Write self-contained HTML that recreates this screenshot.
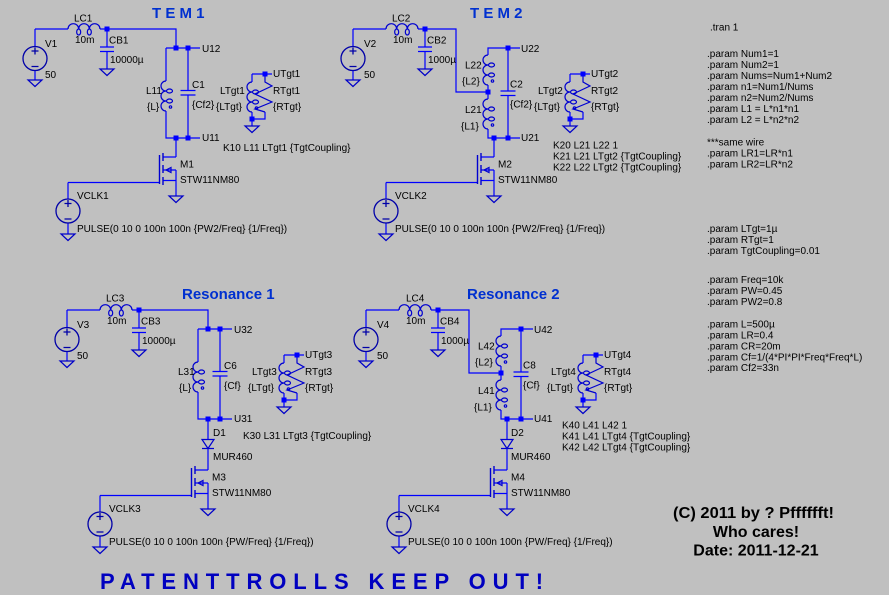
<!DOCTYPE html>
<html>
<head>
<meta charset="utf-8">
<style>
  html,body{margin:0;padding:0;background:#c0c0c0;}
  svg{display:block;}
  .t{font-family:"Liberation Sans",Arial,sans-serif;font-size:10px;fill:#000;}
  .ttl{font-family:"Liberation Sans",Arial,sans-serif;font-size:15px;font-weight:bold;fill:#0030d0;}
</style>
</head>
<body>
<svg width="889" height="595" viewBox="0 0 889 595" xmlns="http://www.w3.org/2000/svg">
<rect width="889" height="595" fill="#c0c0c0"/>
<defs>
  <g id="gnd" fill="none" stroke="#0000c8" stroke-width="1.2"><path d="M-7,0H7L0,6.5Z"/></g>
  <g id="vs" fill="none" stroke="#0000a8" stroke-width="1.3"><circle r="12"/><path d="M-3.5,-7.5H3.5M0,-11V-4M-3.5,8H3.5"/></g>
  <g id="lh" fill="none" stroke="#0000d0" stroke-width="1.2">
    <path d="M0,0A5.33,5.33 0 0 1 10.67,0A5.33,5.33 0 0 1 21.33,0A5.33,5.33 0 0 1 32,0"/>
    <ellipse cx="10.67" cy="3" rx="2" ry="3"/><ellipse cx="21.33" cy="3" rx="2" ry="3"/>
  </g>
  <g id="lv" fill="none" stroke="#0000d0" stroke-width="1.2">
    <path d="M0,0A5,5 0 0 0 0,10A5,5 0 0 0 0,20A5,5 0 0 0 0,30"/>
    <ellipse cx="3.5" cy="10" rx="3" ry="2"/><ellipse cx="3.5" cy="20" rx="3" ry="2"/>
    <circle cx="4.5" cy="26" r="1.2"/>
  </g>
  <rect id="dt" x="-2.5" y="-2.5" width="5" height="5" fill="#0000ff" stroke="none"/>

  <g id="up1" fill="none" stroke="#0000ff" stroke-width="1.2">
    <path d="M35,29V46.5M35,70.5V80M35,29H68M100,29H176V48M107,29V47M100,47H114M100,51.5H114M107,51.5V69M166,48H200M166,48V81M166,111V138H200M188,48V90.5M180.5,90.5H195.5M180.5,95H195.5M188,95V138"/>
    <use href="#vs" x="35" y="58.5"/>
    <use href="#gnd" x="35" y="80"/>
    <use href="#lh" x="68" y="29"/>
    <use href="#gnd" x="107" y="69"/>
    <use href="#lv" x="166" y="81"/>
    <use href="#dt" x="107" y="29"/>
    <use href="#dt" x="176" y="48"/>
    <use href="#dt" x="188" y="48"/>
    <use href="#dt" x="176" y="138"/>
    <use href="#dt" x="188" y="138"/>
  </g>

  <g id="up2" fill="none" stroke="#0000ff" stroke-width="1.2">
    <path d="M353,29V46.5M353,70.5V80M353,29H386M418,29H456V92H488M425,29V47M418,47H432M418,51.5H432M425,51.5V69M520,48H488V55M488,85V99M488,129V138H520M508,48V91M500.5,91H515.5M500.5,95.5H515.5M508,95.5V138"/>
    <use href="#vs" x="353" y="58.5"/>
    <use href="#gnd" x="353" y="80"/>
    <use href="#lh" x="386" y="29"/>
    <use href="#gnd" x="425" y="69"/>
    <use href="#lv" x="488" y="55"/>
    <use href="#lv" x="488" y="99"/>
    <use href="#dt" x="425" y="29"/>
    <use href="#dt" x="488" y="92"/>
    <use href="#dt" x="508" y="48"/>
    <use href="#dt" x="494" y="138"/>
    <use href="#dt" x="508" y="138"/>
  </g>

  <g id="tgt" fill="none" stroke="#0000ff" stroke-width="1.2">
    <path d="M252,74H272M252,74V82M252,112V119H265V112M252,119V126"/>
    <path d="M265,74V82L272,86L255,94L272,102L255,109L265,112" stroke="#0000d0"/>
    <use href="#lv" x="252" y="82"/>
    <use href="#gnd" x="252" y="126"/>
    <use href="#dt" x="265" y="74"/>
    <use href="#dt" x="252" y="119"/>
  </g>

  <g id="mos" fill="none" stroke="#0000ff" stroke-width="1.2">
    <path d="M163,157H176M68,182.5H159.5M163,170H176M163,180.5H176M176,170V196M68,182.5V199M68,223V234"/>
    <path d="M163,153V161M163,165V173M163,177V185M159.5,155V184" stroke="#0000d0" stroke-width="1.4"/>
    <path d="M166,170L171,167.5V172.5Z" stroke="#0000d0"/>
    <use href="#vs" x="68" y="211"/>
    <use href="#gnd" x="176" y="196"/>
    <use href="#gnd" x="68" y="234"/>
  </g>
</defs>

<!-- TEM1 -->
<use href="#up1"/>
<use href="#tgt"/>
<use href="#mos"/>
<path d="M176,138V157" stroke="#0000ff" stroke-width="1.2" fill="none"/>

<!-- TEM2 -->
<use href="#up2"/>
<use href="#tgt" x="318" y="0"/>
<use href="#mos" x="318" y="0"/>
<path d="M494,138V157" stroke="#0000ff" stroke-width="1.2" fill="none"/>

<!-- Resonance 1 -->
<use href="#up1" x="32" y="281"/>
<use href="#tgt" x="32" y="281"/>
<use href="#mos" x="32" y="313"/>
<g fill="none" stroke="#0000ff" stroke-width="1.2">
  <path d="M208,419V439.5M208,448.5V470"/>
  <path d="M202,439.5H214L208,448.5ZM202,448.5H214" stroke="#0000d0"/>
</g>

<!-- Resonance 2 -->
<use href="#up2" x="13" y="281"/>
<use href="#tgt" x="331" y="281"/>
<use href="#mos" x="331" y="313"/>
<g fill="none" stroke="#0000ff" stroke-width="1.2">
  <path d="M507,419V439.5M507,448.5V470"/>
  <path d="M501,439.5H513L507,448.5ZM501,448.5H513" stroke="#0000d0"/>
</g>

<!-- Titles -->
<text class="ttl" x="152" y="18">T E M 1</text>
<text class="ttl" x="470" y="18">T E M 2</text>
<text class="ttl" x="182" y="299">Resonance 1</text>
<text class="ttl" x="467" y="299">Resonance 2</text>

<!-- TEM1 labels -->
<g class="t">
<text x="74" y="21.5">LC1</text>
<text x="75" y="43">10m</text>
<text x="45" y="47">V1</text>
<text x="45" y="78">50</text>
<text x="109" y="43.5">CB1</text>
<text x="110" y="63">10000µ</text>
<text x="202" y="52">U12</text>
<text x="146" y="94">L11</text>
<text x="147" y="110">{L}</text>
<text x="192" y="88">C1</text>
<text x="192" y="108">{Cf2}</text>
<text x="202" y="141">U11</text>
<text x="273" y="77">UTgt1</text>
<text x="220" y="94">LTgt1</text>
<text x="216" y="110">{LTgt}</text>
<text x="273" y="94">RTgt1</text>
<text x="273" y="110">{RTgt}</text>
<text x="223" y="151">K10 L11 LTgt1 {TgtCoupling}</text>
<text x="180" y="167.5">M1</text>
<text x="180" y="183">STW11NM80</text>
<text x="77" y="199">VCLK1</text>
<text x="77" y="232">PULSE(0 10 0 100n 100n {PW2/Freq} {1/Freq})</text>
</g>

<!-- TEM2 labels -->
<g class="t">
<text x="392" y="21.5">LC2</text>
<text x="393" y="43">10m</text>
<text x="364" y="47">V2</text>
<text x="364" y="78">50</text>
<text x="427" y="43.5">CB2</text>
<text x="428" y="63">1000µ</text>
<text x="521" y="52">U22</text>
<text x="521" y="141">U21</text>
<text x="465" y="68.5">L22</text>
<text x="462" y="84.5">{L2}</text>
<text x="465" y="113">L21</text>
<text x="461" y="129.5">{L1}</text>
<text x="510" y="87.5">C2</text>
<text x="510" y="107.5">{Cf2}</text>
<text x="591" y="77">UTgt2</text>
<text x="538" y="94">LTgt2</text>
<text x="534" y="110">{LTgt}</text>
<text x="591" y="94">RTgt2</text>
<text x="591" y="110">{RTgt}</text>
<text x="553" y="148.5">K20 L21 L22 1</text>
<text x="553" y="159.5">K21 L21 LTgt2 {TgtCoupling}</text>
<text x="553" y="170.5">K22 L22 LTgt2 {TgtCoupling}</text>
<text x="498" y="167.5">M2</text>
<text x="498" y="183">STW11NM80</text>
<text x="395" y="199">VCLK2</text>
<text x="395" y="232">PULSE(0 10 0 100n 100n {PW2/Freq} {1/Freq})</text>
</g>

<!-- Resonance 1 labels -->
<g class="t">
<text x="106" y="301.5">LC3</text>
<text x="107" y="324">10m</text>
<text x="77" y="328">V3</text>
<text x="77" y="359">50</text>
<text x="141" y="324.5">CB3</text>
<text x="142" y="344">10000µ</text>
<text x="234" y="333">U32</text>
<text x="234" y="422">U31</text>
<text x="178" y="375">L31</text>
<text x="179" y="391">{L}</text>
<text x="224" y="369">C6</text>
<text x="224" y="389">{Cf}</text>
<text x="305" y="358">UTgt3</text>
<text x="252" y="375">LTgt3</text>
<text x="248" y="391">{LTgt}</text>
<text x="305" y="375">RTgt3</text>
<text x="305" y="391">{RTgt}</text>
<text x="243" y="439">K30 L31 LTgt3 {TgtCoupling}</text>
<text x="213" y="436">D1</text>
<text x="213" y="460">MUR460</text>
<text x="212" y="480.5">M3</text>
<text x="212" y="496">STW11NM80</text>
<text x="109" y="512">VCLK3</text>
<text x="109" y="545">PULSE(0 10 0 100n 100n {PW/Freq} {1/Freq})</text>
</g>

<!-- Resonance 2 labels -->
<g class="t">
<text x="406" y="301.5">LC4</text>
<text x="406" y="324">10m</text>
<text x="377" y="328">V4</text>
<text x="377" y="359">50</text>
<text x="440" y="324.5">CB4</text>
<text x="441" y="344">1000µ</text>
<text x="534" y="333">U42</text>
<text x="534" y="422">U41</text>
<text x="478" y="349.5">L42</text>
<text x="475" y="365.5">{L2}</text>
<text x="478" y="394">L41</text>
<text x="474" y="410.5">{L1}</text>
<text x="523" y="368.5">C8</text>
<text x="523" y="388.5">{Cf}</text>
<text x="604" y="358">UTgt4</text>
<text x="551" y="375">LTgt4</text>
<text x="547" y="391">{LTgt}</text>
<text x="604" y="375">RTgt4</text>
<text x="604" y="391">{RTgt}</text>
<text x="562" y="428.5">K40 L41 L42 1</text>
<text x="562" y="439.5">K41 L41 LTgt4 {TgtCoupling}</text>
<text x="562" y="450.5">K42 L42 LTgt4 {TgtCoupling}</text>
<text x="511" y="436">D2</text>
<text x="511" y="460">MUR460</text>
<text x="511" y="480.5">M4</text>
<text x="511" y="496">STW11NM80</text>
<text x="408" y="512">VCLK4</text>
<text x="408" y="545">PULSE(0 10 0 100n 100n {PW/Freq} {1/Freq})</text>
</g>

<!-- Directives column -->
<g class="t">
<text x="710" y="30.5">.tran 1</text>
<text x="707" y="57">.param Num1=1</text>
<text x="707" y="68">.param Num2=1</text>
<text x="707" y="79">.param Nums=Num1+Num2</text>
<text x="707" y="90">.param n1=Num1/Nums</text>
<text x="707" y="101">.param n2=Num2/Nums</text>
<text x="707" y="112">.param L1 = L*n1*n1</text>
<text x="707" y="123">.param L2 = L*n2*n2</text>
<text x="707" y="145.5">***same wire</text>
<text x="707" y="156.5">.param LR1=LR*n1</text>
<text x="707" y="167.5">.param LR2=LR*n2</text>
<text x="707" y="232">.param LTgt=1µ</text>
<text x="707" y="243">.param RTgt=1</text>
<text x="707" y="254">.param TgtCoupling=0.01</text>
<text x="707" y="283">.param Freq=10k</text>
<text x="707" y="294">.param PW=0.45</text>
<text x="707" y="305">.param PW2=0.8</text>
<text x="707" y="327.5">.param L=500µ</text>
<text x="707" y="338.5">.param LR=0.4</text>
<text x="707" y="349.5">.param CR=20m</text>
<text x="707" y="360.5">.param Cf=1/(4*PI*PI*Freq*Freq*L)</text>
<text x="707" y="371">.param Cf2=33n</text>
</g>

<!-- Copyright -->
<g font-family="'Liberation Sans',Arial,sans-serif" font-size="16" font-weight="bold" fill="#000">
<text x="673" y="518" textLength="161" lengthAdjust="spacingAndGlyphs">(C) 2011 by ? Pfffffft!</text>
<text x="756" y="537" text-anchor="middle">Who cares!</text>
<text x="756" y="555.5" text-anchor="middle">Date: 2011-12-21</text>
</g>

<!-- Bottom banner -->
<text x="100" y="589" font-family="'Liberation Sans',Arial,sans-serif" font-size="22" font-weight="bold" fill="#0000c0" letter-spacing="6.9">PATENTTROLLS KEEP OUT!</text>
</svg>
</body>
</html>
